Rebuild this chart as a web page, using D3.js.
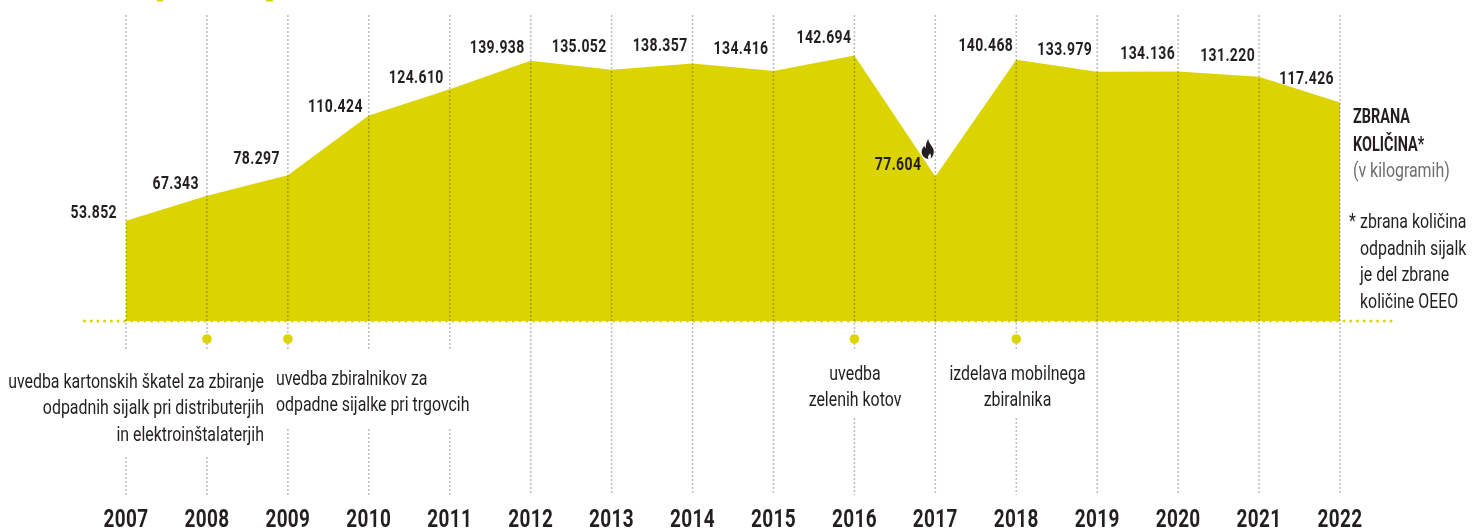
<!DOCTYPE html>
<html><head><meta charset="utf-8">
<style>
html,body{margin:0;padding:0;background:#fff;overflow:hidden}
svg{display:block}
text{font-family:Roboto,"Liberation Sans",sans-serif;fill:#231f20}
.val{font-size:18.5px;font-weight:700;letter-spacing:.5px}
.year{font-size:26.5px;font-weight:700;letter-spacing:.5px}
.note{font-size:20px}
.head{font-size:20px;font-weight:700}
</style></head><body>
<script src="https://cdn.jsdelivr.net/npm/d3@7"></script>
<script>
const years=[2007,2008,2009,2010,2011,2012,2013,2014,2015,2016,2017,2018,2019,2020,2021,2022];
const amounts=[53852,67343,78297,110424,124610,139938,135052,138357,134416,142694,77604,140468,133979,134136,131220,117426];
const amountLabels=["53.852","67.343","78.297","110.424","124.610","139.938","135.052","138.357","134.416","142.694","77.604","140.468","133.979","134.136","131.220","117.426"];
const milestoneYears=[2008,2009,2016,2018];
const W=1483,H=528,col="#dbd400";
const x=d3.scaleLinear().domain([2007,2022]).range([126,1340]);
const y=d3.scaleLinear().domain([0,142694]).range([321,55.5]);
const labelLift=[3,7,11,4,6,8,18,13,17,13,7,9,17,12,16,19];
const labelGap=[9,8,8,6,6,6,5,5,5,3,14,3,5,3,4,6];
const lineGaps={2007:[350,457],2008:[350,457],2009:[350,429],2010:[350,429],2011:[350,429],2016:[350,418],2018:[350,418]};
const svg=d3.select("body").append("svg").attr("width",W).attr("height",H);

// horizontal squeeze per text style, measured against a reference string and width
function squeeze(cls,sample,width){
 const t=svg.append("text").attr("class",cls).text(sample);
 const k=width/t.node().getComputedTextLength();
 t.remove();
 return k;
}
const K={val:squeeze("val","53.852",46.5),year:squeeze("year","2007",45),
 note:squeeze("note","uvedba kartonskih škatel za zbiranje",256),head:squeeze("head","ZBRANA",57)};
function put(cls,px,py,anchor,str){
 return svg.append("text").attr("class",cls).attr("text-anchor",anchor)
  .attr("transform",`translate(${px},${py}) scale(${K[cls]},1)`).text(str);
}

// cropped title descenders at the upper edge
svg.selectAll(".crop").data([[157,6],[266,7]]).join("rect").attr("class","crop")
 .attr("x",d=>d[0]).attr("y",0).attr("width",d=>d[1]).attr("height",1.5).attr("fill",col);

svg.append("path").datum(amounts)
 .attr("d",d3.area().x((d,i)=>x(years[i])).y0(y(0)).y1(d=>y(d))).attr("fill",col);

svg.append("line").attr("x1",84.5).attr("x2",1393).attr("y1",321).attr("y2",321)
 .attr("stroke",col).attr("stroke-width",3).attr("stroke-linecap","round").attr("stroke-dasharray","0 6.7");

const g=svg.append("g").style("mix-blend-mode","multiply");
years.forEach(yr=>{
 const gap=lineGaps[yr];
 const segs=gap?[[15,gap[0]],[gap[1],495]]:[[15,495]];
 segs.forEach(s=>g.append("line").attr("x1",x(yr)).attr("x2",x(yr)).attr("y1",s[0]).attr("y2",s[1])
  .attr("stroke","#bdbdbd").attr("stroke-width",1.5).attr("stroke-dasharray","2 2"));
});

svg.selectAll(".dot").data(milestoneYears).join("circle").attr("class","dot")
 .attr("cx",d=>x(d)).attr("cy",339).attr("r",4.8).attr("fill",col);

amountLabels.forEach((d,i)=>put("val",x(years[i])-labelGap[i],y(amounts[i])-labelLift[i],"end",d));
years.forEach(d=>put("year",x(d),526.5,"middle",d));

function lines(list,xp,anchor,ys,cls){ list.forEach((t,i)=>put(cls||"note",xp,ys[i],anchor,t)); }
lines(["uvedba kartonskih škatel za zbiranje","odpadnih sijalk pri distributerjih","in elektroinštalaterjih"],264,"end",[388,414,441]);
lines(["uvedba zbiralnikov za","odpadne sijalke pri trgovcih"],276,"start",[385,411]);
lines(["uvedba","zelenih kotov"],855,"middle",[380,406]);
lines(["izdelava mobilnega","zbiralnika"],1017.5,"middle",[380,406]);
lines(["ZBRANA","KOLIČINA*"],1353,"start",[123,151],"head");
put("note",1353,177,"start","(v kilogramih)").style("fill","#6d6e71");
lines(["*"],1349,"start",[228]);
lines(["zbrana količina","odpadnih sijalk","je del zbrane","količine OEEO"],1360,"start",[228,255,281,308]);

// flame icon
svg.append("path").attr("transform","translate(921.5,139)").attr("fill","#231f20")
 .attr("d","M6.8 0C7 4 10.5 6.5 12 10.5C13 14 11.5 17.5 9 20C9.8 17.8 9.6 15.8 8.4 14.2C8 15.6 7 16.4 6.6 17.6C6.4 18.4 6.6 19.3 7 20C3.2 19.6 0.3 16.5 0.1 13C0 10 1.8 8.5 2.8 6.5C3 7.8 3.5 8.8 4.3 9.3C4 6 5 3 6.8 0Z");
</script></body></html>
